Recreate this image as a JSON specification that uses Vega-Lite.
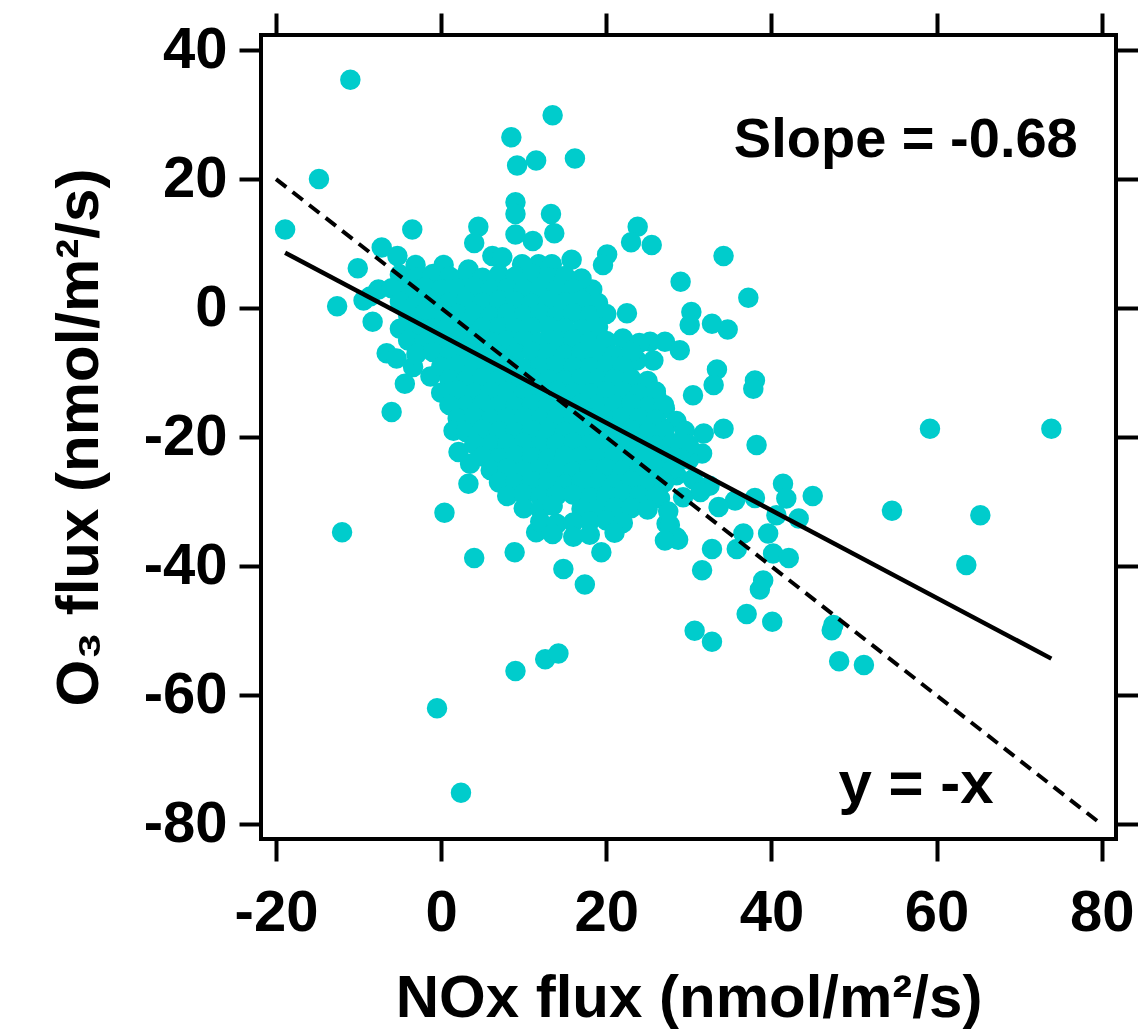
{
  "$schema": "https://vega.github.io/schema/vega-lite/v6.json",
  "width": 855,
  "height": 804,
  "autosize": "none",
  "padding": {"left": 261, "top": 35, "right": 22, "bottom": 195},
  "background": "white",
  "config": {
    "view": {"stroke": "#000000", "strokeWidth": 4},
    "font": "Liberation Sans",
    "axis": {
      "grid": false, "domain": false, "ticks": true, "tickSize": 22, "tickWidth": 4, "tickColor": "#000000",
      "labelFont": "Liberation Sans", "labelFontSize": 58, "labelFontWeight": "bold", "labelColor": "#000000",
      "titleFont": "Liberation Sans", "titleFontSize": 60, "titleFontWeight": "bold", "titleColor": "#000000",
      "labelFlush": false, "labelOverlap": false
    }
  },
  "datasets": {
    "pts": [
      {"x":-11.0,"y":35.4},{"x":13.5,"y":29.9},{"x":8.5,"y":26.5},{"x":9.2,"y":22.1},{"x":11.5,"y":22.9},{"x":16.2,"y":23.2},
      {"x":-14.8,"y":20.0},{"x":-18.9,"y":12.2},{"x":-3.5,"y":12.2},{"x":9.0,"y":16.4},{"x":9.0,"y":14.6},{"x":13.3,"y":14.6},
      {"x":13.7,"y":11.6},{"x":4.5,"y":12.6},{"x":4.0,"y":10.1},{"x":9.0,"y":11.4},{"x":11.1,"y":10.4},{"x":23.8,"y":12.6},
      {"x":23.0,"y":10.2},{"x":25.5,"y":9.8},{"x":20.1,"y":8.3},{"x":19.6,"y":6.7},{"x":29.0,"y":4.1},{"x":-10.1,"y":6.2},
      {"x":15.8,"y":7.5},{"x":-7.2,"y":9.4},{"x":-5.3,"y":8.1},{"x":-7.6,"y":2.9},{"x":-3.1,"y":6.7},{"x":0.3,"y":6.7},
      {"x":3.3,"y":6.0},{"x":6.2,"y":8.1},{"x":7.4,"y":7.9},{"x":9.8,"y":6.8},{"x":11.8,"y":6.8},{"x":13.4,"y":6.8},
      {"x":18.3,"y":2.9},{"x":34.2,"y":8.1},{"x":37.2,"y":1.6},{"x":-12.6,"y":0.3},{"x":-8.3,"y":-2.1},{"x":-6.6,"y":-7.0},
      {"x":-5.4,"y":-7.8},{"x":-4.4,"y":-11.7},{"x":-1.3,"y":-10.6},{"x":-6.0,"y":-16.1},{"x":2.1,"y":-22.3},{"x":3.5,"y":-24.1},
      {"x":3.3,"y":-27.2},{"x":0.4,"y":-31.7},{"x":-12.0,"y":-34.7},{"x":4.0,"y":-38.7},{"x":8.9,"y":-37.8},{"x":19.4,"y":-37.8},
      {"x":14.8,"y":-40.4},{"x":22.5,"y":-0.8},{"x":30.3,"y":-0.6},{"x":30.1,"y":-2.6},{"x":30.5,"y":-13.5},{"x":27.1,"y":-18.7},
      {"x":28.5,"y":-25.9},{"x":27.3,"y":-33.4},{"x":28.5,"y":-35.5},{"x":11.5,"y":-34.7},{"x":32.8,"y":-2.4},{"x":34.7,"y":-3.3},
      {"x":25.3,"y":-5.2},{"x":27.1,"y":-5.2},{"x":28.9,"y":-6.5},{"x":25.7,"y":-8.1},{"x":23.7,"y":-8.1},{"x":33.4,"y":-9.5},
      {"x":33.0,"y":-11.9},{"x":38.0,"y":-11.2},{"x":37.8,"y":-12.5},{"x":24.9,"y":-12.7},{"x":26.1,"y":-13.8},{"x":27.1,"y":-15.6},
      {"x":25.3,"y":-16.9},{"x":34.2,"y":-18.7},{"x":38.2,"y":-21.2},{"x":31.8,"y":-19.4},{"x":29.7,"y":-21.0},{"x":31.6,"y":-22.5},
      {"x":28.5,"y":-17.5},{"x":29.5,"y":-19.0},{"x":30.0,"y":-23.5},{"x":28.0,"y":-22.5},{"x":30.5,"y":-26.5},{"x":32.5,"y":-27.5},
      {"x":59.2,"y":-18.7},{"x":73.9,"y":-18.7},{"x":31.4,"y":-28.5},{"x":29.3,"y":-29.3},{"x":35.6,"y":-29.8},{"x":33.6,"y":-30.8},
      {"x":38.0,"y":-29.4},{"x":41.4,"y":-27.2},{"x":41.8,"y":-29.5},{"x":45.0,"y":-29.1},{"x":40.6,"y":-32.1},{"x":43.3,"y":-32.6},
      {"x":54.6,"y":-31.4},{"x":65.3,"y":-32.1},{"x":63.6,"y":-39.8},{"x":27.7,"y":-33.6},{"x":28.7,"y":-35.9},{"x":27.1,"y":-36.0},
      {"x":32.8,"y":-37.3},{"x":35.8,"y":-37.3},{"x":36.6,"y":-34.9},{"x":39.6,"y":-34.9},{"x":40.2,"y":-38.0},{"x":42.1,"y":-38.7},
      {"x":31.6,"y":-40.6},{"x":39.0,"y":-42.2},{"x":38.6,"y":-43.6},{"x":37.0,"y":-47.4},{"x":40.1,"y":-48.6},{"x":30.7,"y":-50.0},
      {"x":32.8,"y":-51.7},{"x":47.3,"y":-49.9},{"x":47.5,"y":-49.1},{"x":48.2,"y":-54.7},{"x":51.2,"y":-55.3},{"x":17.4,"y":-42.8},
      {"x":12.6,"y":-54.4},{"x":14.2,"y":-53.5},{"x":9.0,"y":-56.2},{"x":-0.5,"y":-62.0},{"x":2.4,"y":-75.1},{"x":-8.6,"y":1.8},
      {"x":-9.4,"y":1.2},{"x":-3.4,"y":-9.1},{"x":26.5,"y":-29.5},{"x":27.5,"y":-31.5},

      {"x":-5,"y":5.2},{"x":-3,"y":4.8},{"x":-1,"y":5.3},{"x":1,"y":4.9},{"x":3,"y":5.1},{"x":5,"y":4.7},{"x":7,"y":5.2},{"x":9,"y":4.9},{"x":11,"y":5.3},{"x":13,"y":4.8},{"x":15,"y":5.0},{"x":17,"y":4.6},
      {"x":-6,"y":3.1},{"x":-4,"y":2.8},{"x":-2,"y":3.2},{"x":0,"y":2.9},{"x":2,"y":3.0},{"x":4,"y":3.3},{"x":6,"y":2.8},{"x":8,"y":3.1},{"x":10,"y":2.9},{"x":12,"y":3.2},{"x":14,"y":2.8},{"x":16,"y":3.0},
      {"x":-5,"y":1.0},{"x":-3,"y":0.8},{"x":-1,"y":1.2},{"x":1,"y":0.9},{"x":3,"y":1.1},{"x":5,"y":0.8},{"x":7,"y":1.2},{"x":9,"y":1.0},{"x":11,"y":0.7},{"x":13,"y":1.1},{"x":15,"y":0.9},{"x":17,"y":1.2},{"x":19,"y":0.8},
      {"x":-4,"y":-1.1},{"x":-2,"y":-0.8},{"x":0,"y":-1.2},{"x":2,"y":-0.9},{"x":4,"y":-1.0},{"x":6,"y":-1.3},{"x":8,"y":-0.8},{"x":10,"y":-1.1},{"x":12,"y":-0.9},{"x":14,"y":-1.2},{"x":16,"y":-0.8},{"x":18,"y":-1.1},{"x":20,"y":-0.9},
      {"x":-5,"y":-3.2},{"x":-3,"y":-2.9},{"x":-1,"y":-3.1},{"x":1,"y":-2.8},{"x":3,"y":-3.3},{"x":5,"y":-3.0},{"x":7,"y":-2.9},{"x":9,"y":-3.2},{"x":11,"y":-3.0},{"x":13,"y":-2.8},{"x":15,"y":-3.1},{"x":17,"y":-3.3},{"x":19,"y":-2.9},
      {"x":-4,"y":-5.0},{"x":-2,"y":-5.3},{"x":0,"y":-4.9},{"x":2,"y":-5.1},{"x":4,"y":-4.8},{"x":6,"y":-5.2},{"x":8,"y":-5.0},{"x":10,"y":-4.9},{"x":12,"y":-5.3},{"x":14,"y":-5.0},{"x":16,"y":-4.8},{"x":18,"y":-5.2},{"x":20,"y":-5.1},{"x":22,"y":-4.7},{"x":24,"y":-5.4},
      {"x":-3,"y":-7.1},{"x":-1,"y":-6.8},{"x":1,"y":-7.2},{"x":3,"y":-7.0},{"x":5,"y":-6.9},{"x":7,"y":-7.3},{"x":9,"y":-7.0},{"x":11,"y":-6.8},{"x":13,"y":-7.1},{"x":15,"y":-7.2},{"x":17,"y":-6.9},{"x":19,"y":-7.0},{"x":21,"y":-7.3},{"x":23,"y":-6.8},
      {"x":0,"y":-9.1},{"x":2,"y":-8.8},{"x":4,"y":-9.2},{"x":6,"y":-9.0},{"x":8,"y":-8.9},{"x":10,"y":-9.3},{"x":12,"y":-9.0},{"x":14,"y":-8.8},{"x":16,"y":-9.1},{"x":18,"y":-9.2},{"x":20,"y":-8.9},{"x":22,"y":-9.0},
      {"x":1,"y":-11.0},{"x":3,"y":-11.2},{"x":5,"y":-10.8},{"x":7,"y":-11.1},{"x":9,"y":-11.3},{"x":11,"y":-10.9},{"x":13,"y":-11.0},{"x":15,"y":-11.2},{"x":17,"y":-10.8},{"x":19,"y":-11.1},{"x":21,"y":-11.0},{"x":23,"y":-10.9},{"x":25,"y":-11.3},
      {"x":0,"y":-13.1},{"x":2,"y":-12.8},{"x":4,"y":-13.2},{"x":6,"y":-13.0},{"x":8,"y":-12.9},{"x":10,"y":-13.3},{"x":12,"y":-13.0},{"x":14,"y":-12.8},{"x":16,"y":-13.1},{"x":18,"y":-13.2},{"x":20,"y":-12.9},{"x":22,"y":-13.0},{"x":24,"y":-13.3},{"x":26,"y":-12.9},
      {"x":1,"y":-15.0},{"x":3,"y":-15.2},{"x":5,"y":-14.8},{"x":7,"y":-15.1},{"x":9,"y":-15.3},{"x":11,"y":-14.9},{"x":13,"y":-15.0},{"x":15,"y":-15.2},{"x":17,"y":-14.8},{"x":19,"y":-15.1},{"x":21,"y":-15.0},{"x":23,"y":-14.9},{"x":25,"y":-15.3},{"x":27,"y":-15.0},
      {"x":2,"y":-17.1},{"x":4,"y":-16.8},{"x":6,"y":-17.2},{"x":8,"y":-17.0},{"x":10,"y":-16.9},{"x":12,"y":-17.3},{"x":14,"y":-17.0},{"x":16,"y":-16.8},{"x":18,"y":-17.1},{"x":20,"y":-17.2},{"x":22,"y":-16.9},{"x":24,"y":-17.0},{"x":26,"y":-17.3},
      {"x":1.5,"y":-19.0},{"x":3,"y":-19.2},{"x":5,"y":-18.8},{"x":7,"y":-19.1},{"x":9,"y":-19.3},{"x":11,"y":-18.9},{"x":13,"y":-19.0},{"x":15,"y":-19.2},{"x":17,"y":-18.8},{"x":19,"y":-19.1},{"x":21,"y":-19.0},{"x":23,"y":-18.9},{"x":25,"y":-19.3},{"x":27,"y":-19.0},
      {"x":4,"y":-21.1},{"x":6,"y":-21.2},{"x":8,"y":-21.0},{"x":10,"y":-20.9},{"x":12,"y":-21.3},{"x":14,"y":-21.0},{"x":16,"y":-20.8},{"x":18,"y":-21.1},{"x":20,"y":-21.2},{"x":22,"y":-20.9},{"x":24,"y":-21.0},{"x":26,"y":-21.3},{"x":28,"y":-20.9},{"x":30,"y":-21.2},
      {"x":5,"y":-23.0},{"x":7,"y":-23.2},{"x":9,"y":-22.8},{"x":11,"y":-23.1},{"x":13,"y":-23.3},{"x":15,"y":-22.9},{"x":17,"y":-23.0},{"x":19,"y":-23.2},{"x":21,"y":-22.8},{"x":23,"y":-23.1},{"x":25,"y":-23.0},{"x":27,"y":-22.9},{"x":29,"y":-23.3},
      {"x":6,"y":-25.1},{"x":8,"y":-24.8},{"x":10,"y":-25.2},{"x":12,"y":-25.0},{"x":14,"y":-24.9},{"x":16,"y":-25.3},{"x":18,"y":-25.0},{"x":20,"y":-24.8},{"x":22,"y":-25.1},{"x":24,"y":-25.2},{"x":26,"y":-24.9},{"x":28,"y":-25.0},
      {"x":7,"y":-27.0},{"x":9,"y":-27.2},{"x":11,"y":-26.8},{"x":13,"y":-27.1},{"x":15,"y":-27.3},{"x":17,"y":-26.9},{"x":19,"y":-27.0},{"x":21,"y":-27.2},{"x":23,"y":-26.8},{"x":25,"y":-27.1},{"x":27,"y":-27.0},
      {"x":8,"y":-29.1},{"x":10,"y":-28.8},{"x":12,"y":-29.2},{"x":14,"y":-29.0},{"x":16,"y":-28.9},{"x":18,"y":-29.3},{"x":20,"y":-29.0},{"x":22,"y":-28.8},{"x":24,"y":-29.1},{"x":26,"y":-29.2},
      {"x":10,"y":-31.0},{"x":12,"y":-31.2},{"x":13.5,"y":-30.6},{"x":17,"y":-31.1},{"x":19,"y":-31.3},{"x":21,"y":-30.9},{"x":23,"y":-31.0},{"x":25,"y":-31.2},
      {"x":12,"y":-33.1},{"x":14,"y":-33.4},{"x":16,"y":-33.2},{"x":18,"y":-33.0},{"x":20,"y":-32.9},{"x":22,"y":-33.3},
      {"x":13.5,"y":-35.0},{"x":16,"y":-35.4},{"x":18,"y":-35.1},{"x":21,"y":-34.8}
    ],
    "identity": [{"x": -20, "y": 20}, {"x": 80, "y": -80}],
    "fit": [{"x": -18.9, "y": 8.6}, {"x": 73.9, "y": -54.3}],
    "slope": [{"x": 77.1, "y": 23.4, "label": "Slope = -0.68"}],
    "yx": [{"x": 66.9, "y": -76.6, "label": "y = -x"}]
  },
  "layer": [
    {
      "data": {"name": "pts"},
      "mark": {"type": "circle", "size": 420, "color": "#00CCCC", "opacity": 1},
      "encoding": {
        "x": {"field": "x", "type": "quantitative", "scale": {"domain": [-21.82, 81.73], "nice": false, "zero": false},
              "axis": {"orient": "bottom", "values": [-20, 0, 20, 40, 60, 80], "labelExpr": "'' + datum.value", "labelPadding": 23, "title": "NOx flux (nmol/m²/s)", "titlePadding": 27}},
        "y": {"field": "y", "type": "quantitative", "scale": {"domain": [-82.25, 42.33], "nice": false, "zero": false},
              "axis": {"orient": "left", "values": [-80, -60, -40, -20, 0, 20, 40], "labelExpr": "'' + datum.value", "labelPadding": 12, "title": "O₃ flux (nmol/m²/s)", "titlePadding": 33}}
      }
    },
    {
      "data": {"name": "identity"},
      "mark": {"type": "line", "color": "#000000", "strokeWidth": 4, "strokeDash": [13, 8]},
      "encoding": {
        "x": {"field": "x", "type": "quantitative", "scale": {"domain": [-21.82, 81.73], "nice": false, "zero": false},
              "axis": {"orient": "top", "values": [-20, 0, 20, 40, 60, 80], "labels": false, "title": null}},
        "y": {"field": "y", "type": "quantitative", "scale": {"domain": [-82.25, 42.33], "nice": false, "zero": false},
              "axis": {"orient": "right", "values": [-80, -60, -40, -20, 0, 20, 40], "labels": false, "title": null}}
      }
    },
    {
      "data": {"name": "fit"},
      "mark": {"type": "line", "color": "#000000", "strokeWidth": 4.5},
      "encoding": {
        "x": {"field": "x", "type": "quantitative", "scale": {"domain": [-21.82, 81.73], "nice": false, "zero": false}, "axis": null},
        "y": {"field": "y", "type": "quantitative", "scale": {"domain": [-82.25, 42.33], "nice": false, "zero": false}, "axis": null}
      }
    },
    {
      "data": {"name": "slope"},
      "mark": {"type": "text", "align": "right", "baseline": "alphabetic", "fontSize": 56, "fontWeight": "bold", "font": "Liberation Sans", "color": "#000000"},
      "encoding": {
        "x": {"field": "x", "type": "quantitative", "scale": {"domain": [-21.82, 81.73], "nice": false, "zero": false}, "axis": null},
        "y": {"field": "y", "type": "quantitative", "scale": {"domain": [-82.25, 42.33], "nice": false, "zero": false}, "axis": null},
        "text": {"field": "label"}
      }
    },
    {
      "data": {"name": "yx"},
      "mark": {"type": "text", "align": "right", "baseline": "alphabetic", "fontSize": 60, "fontWeight": "bold", "font": "Liberation Sans", "color": "#000000"},
      "encoding": {
        "x": {"field": "x", "type": "quantitative", "scale": {"domain": [-21.82, 81.73], "nice": false, "zero": false}, "axis": null},
        "y": {"field": "y", "type": "quantitative", "scale": {"domain": [-82.25, 42.33], "nice": false, "zero": false}, "axis": null},
        "text": {"field": "label"}
      }
    }
  ],
  "resolve": {"axis": {"x": "independent", "y": "independent"}}
}
